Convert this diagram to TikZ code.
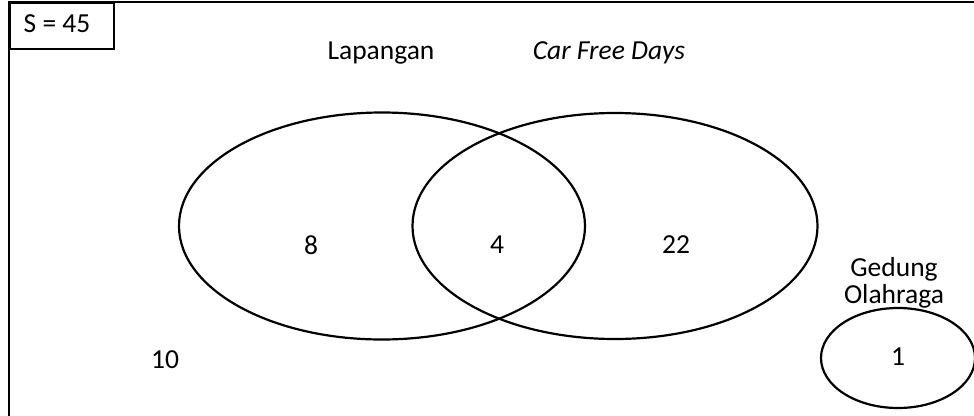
\documentclass[tikz,border=0pt]{standalone}
\usepackage{fontspec}
\setmainfont{Carlito}
\usetikzlibrary{shapes.geometric}
\begin{document}
\begin{tikzpicture}[x=1pt,y=-1pt,
  setline/.style={draw=black,line width=2.2pt},
  setshape/.style={setline,ellipse,inner sep=0pt},
  lbl/.style={font=\fontsize{27.5}{27}\selectfont,inner sep=0pt},
  cnt/.style={font=\fontsize{27.5}{27}\selectfont,inner sep=0pt}]
  \useasboundingbox (0,0) rectangle (974,415);
  \clip (0,0) rectangle (974,415);
  % universe frame and its label box
  \draw[setline] (9,2) rectangle (1000,440);
  \node[setline,rectangle,anchor=north west,minimum width=104pt,minimum height=46pt,
        inner sep=0pt] (S) at (9,2) {};
  \node[lbl] (Sn) at (57,24) {S = 45};
  % the three sets
  \node[setshape,minimum width=406pt,minimum height=227pt] (L) at (382,226) {};
  \node[setshape,minimum width=405pt,minimum height=226pt] (C) at (615,226) {};
  \node[setshape,minimum width=154pt,minimum height=100pt] (G) at (898,358) {};
  % set names
  \node[lbl] (Ln) at (381,53) {Lapangan};
  \node[lbl] (Cn) at (609,53) {\itshape Car Free Days};
  \node[lbl,align=center] (Gn) at (894,283) {Gedung\\Olahraga};
  % element counts
  \node[cnt] (n8) at (311,245) {8};
  \node[cnt] (n4) at (497,245) {4};
  \node[cnt] (n22) at (676,245) {22};
  \node[cnt] (n1) at (898,357) {1};
  \node[cnt] (n10) at (165,360) {10};
\end{tikzpicture}
\end{document}
